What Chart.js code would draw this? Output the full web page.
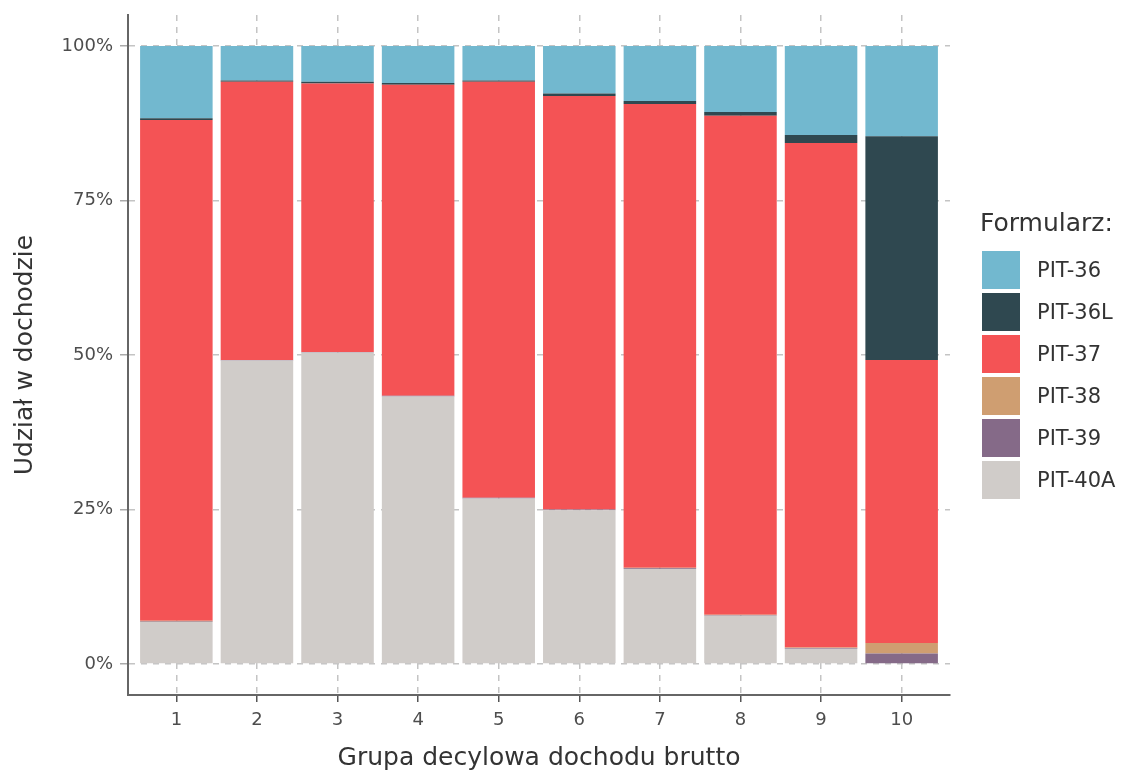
<!DOCTYPE html>
<html>
<head>
<meta charset="utf-8">
<script src="https://cdn.jsdelivr.net/npm/chart.js@4/dist/chart.umd.min.js"></script>
<style>
  body { margin: 0; background: #fff; }
  #wrap { position: relative; width: 1123px; height: 773px; }
  #legend { position: absolute; left: 0; top: 0; font-family: "DejaVu Sans", sans-serif; color: #333; }
  #legend .title { position: absolute; left: 980px; top: 208px; font-size: 25px; line-height: 30px; white-space: nowrap; }
  #legend .key { position: absolute; left: 982px; width: 38px; height: 38px; }
  #legend .lab { position: absolute; left: 1037px; height: 38px; line-height: 38px; font-size: 21px; white-space: nowrap; }
</style>
</head>
<body>
<div id="wrap">
  <canvas id="decileChart" width="1123" height="773"></canvas>
  <div id="legend"></div>
</div>
<script>
// decyle i udziały formularzy (%)
const deciles = ["1","2","3","4","5","6","7","8","9","10"];
const pit40a = [6.8, 49.1, 50.4, 43.3, 26.8, 24.9, 15.4, 7.8, 2.5, 0];
const pit39  = [0.1, 0.1, 0.1, 0.1, 0.1, 0.1, 0.1, 0.1, 0.1, 1.7];
const pit38  = [0.1, 0, 0, 0, 0, 0, 0.1, 0.1, 0.1, 1.7];
const pit37  = [81.0, 45.0, 43.4, 50.3, 67.3, 66.9, 75.0, 80.7, 81.6, 45.8];
const pit36l = [0.3, 0.2, 0.3, 0.3, 0.2, 0.4, 0.5, 0.6, 1.3, 36.2];
const pit36  = [11.7, 5.6, 5.8, 6.0, 5.6, 7.7, 8.9, 10.7, 14.4, 14.6];
const yTicks = [0, 25, 50, 75, 100];

// legend order (top -> bottom)
const formNames  = ["PIT-36", "PIT-36L", "PIT-37", "PIT-38", "PIT-39", "PIT-40A"];
const formColors = ["#72b8cf", "#2f4850", "#f45355", "#cf9e71", "#856a88", "#d0ccc9"];
const formData   = [pit36, pit36l, pit37, pit38, pit39, pit40a];

const FONT = "DejaVu Sans";

// stack from the bottom: PIT-40A first
const datasets = [];
for (let i = formNames.length - 1; i >= 0; i--) {
    datasets.push({
        label: formNames[i],
        data: formData[i],
        backgroundColor: formColors[i],
        borderWidth: 0
    });
}

new Chart(document.getElementById("decileChart"), {
    type: "bar",
    data: { labels: deciles, datasets: datasets },
    options: {
        responsive: false,
        animation: false,
        events: [],
        layout: { padding: { top: 15, right: 173, left: 0, bottom: 0 } },
        datasets: { bar: { barPercentage: 0.9, categoryPercentage: 1.0 } },
        plugins: {
            legend: { display: false },
            tooltip: { enabled: false }
        },
        scales: {
            x: {
                type: "linear",
                stacked: true,
                min: 0.4,
                max: 10.6,
                offset: false,
                afterBuildTicks: s => { s.ticks = deciles.map(d => ({ value: +d })); },
                afterFit: s => { s.height = 78; },
                ticks: {
                    color: "#4d4d4d",
                    font: { family: FONT, size: 18 },
                    padding: 8,
                    autoSkip: false,
                    maxRotation: 0,
                    callback: v => String(v)
                },
                grid: {
                    offset: false,
                    color: "#c4c4c4",
                    lineWidth: 1.5,
                    tickLength: 7,
                    tickColor: "#555",
                    tickWidth: 1.5,
                    tickBorderDash: []
                },
                border: { display: true, color: "#666", width: 2, dash: [6, 6] },
                title: {
                    display: true,
                    text: "Grupa decylowa dochodu brutto",
                    color: "#333",
                    font: { family: FONT, size: 25 },
                    padding: { top: 0, bottom: 0 }
                }
            },
            y: {
                stacked: true,
                min: -5,
                max: 105,
                afterBuildTicks: s => { s.ticks = yTicks.map(v => ({ value: v })); },
                afterFit: s => { s.width = 128; s.paddingTop = 0; s.paddingBottom = 0; },
                ticks: {
                    color: "#4d4d4d",
                    font: { family: FONT, size: 18 },
                    padding: 7,
                    callback: v => v + "%"
                },
                grid: {
                    color: "#c4c4c4",
                    lineWidth: 1.5,
                    tickLength: 8,
                    tickColor: "#aaa",
                    tickWidth: 1.5,
                    tickBorderDash: []
                },
                border: { display: true, color: "#666", width: 2, dash: [6, 6] },
                title: {
                    display: true,
                    text: "Udział w dochodzie",
                    color: "#333",
                    font: { family: FONT, size: 25 },
                    padding: { top: 10, bottom: 0 }
                }
            }
        }
    }
});

// legenda
const legend = document.getElementById("legend");
let html = '<div class="title">Formularz:</div>';
formNames.forEach((name, i) => {
    const top = 251 + i * 42;
    html += `<div class="key" style="top:${top}px;background:${formColors[i]}"></div>`;
    html += `<div class="lab" style="top:${top}px">${name}</div>`;
});
legend.innerHTML = html;
</script>
</body>
</html>
